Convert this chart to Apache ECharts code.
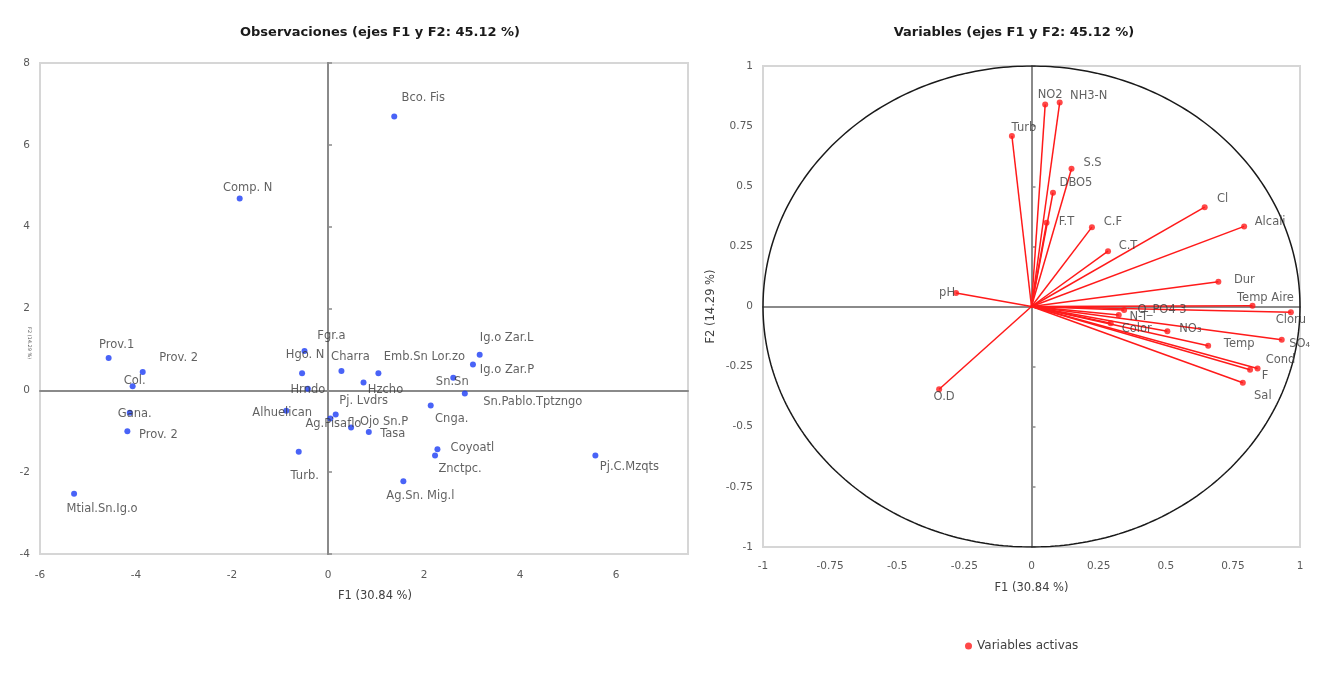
<!DOCTYPE html>
<html><head><meta charset="utf-8">
<script src="https://cdn.jsdelivr.net/npm/echarts@6/dist/echarts.min.js"></script>
<style>html,body{margin:0;padding:0;background:#fff}#c{width:1320px;height:675px}</style>
</head><body><div id="c"></div>
<script>
// ---------- Observaciones (F1, F2) ----------
const obsNames = ["Bco. Fis","Comp. N","Prov.1","Prov. 2","Col.","Gana.","Prov. 2","Mtial.Sn.Ig.o",
  "Fgr.a","Hgo. N","Hrndo","Charra","Emb.Sn Lor.zo","Hzcho","Ig.o Zar.L","Ig.o Zar.P","Sn.Sn",
  "Sn.Pablo.Tptzngo","Cnga.","Alhuelican","Pj. Lvdrs","Ag.Pisaflo","Ojo Sn.P","Tasa","Coyoatl",
  "Znctpc.","Turb.","Ag.Sn. Mig.l","Pj.C.Mzqts"];
const obsF1 = [1.38,-1.84,-4.57,-3.86,-4.07,-4.13,-4.18,-5.29,
  -0.49,-0.54,-0.42,0.28,1.05,0.74,3.16,3.02,2.61,
  2.85,2.14,-0.87,0.16,0.05,0.48,0.85,2.28,
  2.23,-0.61,1.57,5.57];
const obsF2 = [6.69,4.69,0.79,0.45,0.10,-0.55,-1.00,-2.53,
  0.96,0.42,0.04,0.47,0.42,0.19,0.87,0.63,0.31,
  -0.08,-0.37,-0.50,-0.59,-0.69,-0.91,-1.02,-1.44,
  -1.59,-1.50,-2.22,-1.59];

// ---------- Variables (correlaciones F1, F2) ----------
const varNames = ["pH","O.D","Turb","NO2","NH3-N","S.S","DBO5","F.T","C.F","C.T","Cl","Alcali",
  "Dur","Temp Aire","Cloru","O_PO4 3","N-T","Color","NO₃","SO₄","Temp","Cond","F","Sal"];
const varF1 = [-0.281,-0.344,-0.073,0.051,0.105,0.149,0.080,0.056,0.225,0.285,0.645,0.792,
  0.696,0.823,0.966,0.345,0.325,0.295,0.506,0.932,0.658,0.842,0.814,0.787];
const varF2 = [0.056,-0.344,0.709,0.840,0.848,0.573,0.473,0.348,0.330,0.230,0.413,0.333,
  0.103,0.003,-0.024,-0.015,-0.035,-0.070,-0.103,-0.138,-0.163,-0.258,-0.263,-0.317];

// axis ticks
const obsXTicks = {min:-6, max:7.5, interval:2};
const obsYTicks = {min:-4, max:8, interval:2};
const varTicks = {min:-1, max:1, interval:0.25};
const circleRadius = 1;

// ---------- layout (label placement) ----------
const obsLabelOffset = [[29,-19],[8,-10],[8,-13],[36,-14],[2,-5],[5,1],[31,4],[28,15],
  [27,-15],[3,-18],[0,1],[9,-14],[46,-16],[22,7],[27,-17],[34,5],[-1,4],
  [68,8],[21,14],[-4,2],[28,-13],[3,5],[33,-6],[24,2],[35,-1],
  [25,14],[6,24],[17,15],[34,12]];
const varLabelOffset = [[-9,0],[5,8],[12,-8],[5,-9],[29,-7],[21,-6],[23,-10],[20,-1],[21,-5],[20,-5],[18,-8],[26,-4],
  [26,-2],[13,-8],[0,8],[38,0],[20,2],[26,6],[23,-2],[18,4],[31,-2],[23,-9],[15,6],[20,13]];

const FONT = "'DejaVu Sans', 'Noto Sans', sans-serif";
const tickLabel = {color:'#595959', fontSize:10.5, fontFamily:FONT};
const zeroLine = {color:'#8a8a8a', width:2};

const circleData = [];
for (let a = 0; a <= 360; a += 1) {
  const t = a * Math.PI / 180;
  circleData.push([circleRadius * Math.cos(t), circleRadius * Math.sin(t)]);
}

function labelAxis(grid, base, extra) {
  return Object.assign({gridIndex:grid, type:'value', min:base.min, max:base.max, interval:base.interval,
    axisLine:{show:false, onZero:false}, axisTick:{show:false}, splitLine:{show:false}}, extra);
}
function zeroAxis(grid, base, ticks) {
  return {gridIndex:grid, type:'value', min:base.min, max:base.max, interval:base.interval,
    axisLine:{show:true, onZero:true, lineStyle:zeroLine},
    axisTick:{show:ticks, length:4, lineStyle:{color:'#8a8a8a', width:1.5}},
    axisLabel:{show:false}, splitLine:{show:false}};
}

const TITLE_FONT = "'DejaVu Sans', 'Liberation Sans', sans-serif";
const chart = echarts.init(document.getElementById('c'));
chart.setOption({
  backgroundColor:'#ffffff',
  animation:false,
  title:[
    {text:'Observaciones (ejes F1 y F2: 45.12 %)', left:375, top:21, textAlign:'center',
     textStyle:{fontSize:13, fontWeight:'bold', color:'#1a1a1a', fontFamily:TITLE_FONT}},
    {text:'Variables (ejes F1 y F2: 45.12 %)', left:1009, top:21, textAlign:'center',
     textStyle:{fontSize:13, fontWeight:'bold', color:'#1a1a1a', fontFamily:TITLE_FONT}}
  ],
  legend:{data:['Variables activas'], left:960, top:635, icon:'circle', itemWidth:7, itemHeight:7, itemGap:6,
    textStyle:{fontSize:12, color:'#404040', fontFamily:FONT}},
  grid:[
    {left:40, top:63, width:648, height:491, show:true, borderColor:'#d6d6d6', borderWidth:2},
    {left:763, top:66, width:537, height:481, show:true, borderColor:'#d6d6d6', borderWidth:2}
  ],
  graphic:[
    {type:'text', left:27, top:327, rotation:-Math.PI/2,
     style:{text:'F2 (14.29 %)', fontSize:5, fill:'#595959', fontFamily:FONT}}
  ],
  xAxis:[
    labelAxis(0, obsXTicks, {position:'bottom', axisLabel:Object.assign({margin:16, showMaxLabel:false}, tickLabel),
      name:'F1 (30.84 %)', nameLocation:'middle', nameGap:36,
      nameTextStyle:{fontSize:11.5, color:'#404040', fontFamily:FONT, padding:[0,0,0,22]}}),
    zeroAxis(0, obsXTicks, false),
    labelAxis(1, varTicks, {position:'bottom', axisLabel:Object.assign({margin:14}, tickLabel),
      name:'F1 (30.84 %)', nameLocation:'middle', nameGap:35,
      nameTextStyle:{fontSize:11.5, color:'#404040', fontFamily:FONT}}),
    zeroAxis(1, varTicks, false)
  ],
  yAxis:[
    labelAxis(0, obsYTicks, {position:'left', axisLabel:Object.assign({margin:10}, tickLabel)}),
    zeroAxis(0, obsYTicks, true),
    zeroAxis(0, obsYTicks, true),
    labelAxis(1, varTicks, {position:'left', axisLabel:Object.assign({margin:10}, tickLabel),
      name:'F2 (14.29 %)', nameLocation:'middle', nameGap:46,
      nameTextStyle:{fontSize:11.5, color:'#404040', fontFamily:FONT}}),
    zeroAxis(1, varTicks, true),
    zeroAxis(1, varTicks, true)
  ],
  series:[
    {type:'scatter', name:'Observaciones', xAxisIndex:0, yAxisIndex:0, symbolSize:6,
     itemStyle:{color:'#1c3cf5'}, z:5,
     label:{show:true, position:'inside', formatter:'{b}', fontSize:11.5, color:'#3a3a3a', fontFamily:FONT},
     data: obsF1.map((x,i)=>({name:obsNames[i], value:[x, obsF2[i]], label:{offset:obsLabelOffset[i]}}))},
    {type:'line', name:'circle', xAxisIndex:2, yAxisIndex:3, showSymbol:false, silent:true,
     lineStyle:{color:'#1a1a1a', width:1.5}, data:circleData, z:2},
    {type:'lines', name:'vectors', coordinateSystem:'cartesian2d', xAxisIndex:2, yAxisIndex:3, silent:true,
     lineStyle:{color:'#ff1a1a', width:1.5, opacity:1}, z:3,
     data: varF1.map((x,i)=>({coords:[[0,0],[x, varF2[i]]]}))},
    {type:'scatter', name:'Variables activas', xAxisIndex:2, yAxisIndex:3, symbolSize:6,
     itemStyle:{color:'#ff1a1a'}, z:5,
     label:{show:true, position:'inside', formatter:'{b}', fontSize:11.5, color:'#3a3a3a', fontFamily:FONT},
     data: varF1.map((x,i)=>({name:varNames[i], value:[x, varF2[i]], label:{offset:varLabelOffset[i]}}))}
  ]
});
</script></body></html>
